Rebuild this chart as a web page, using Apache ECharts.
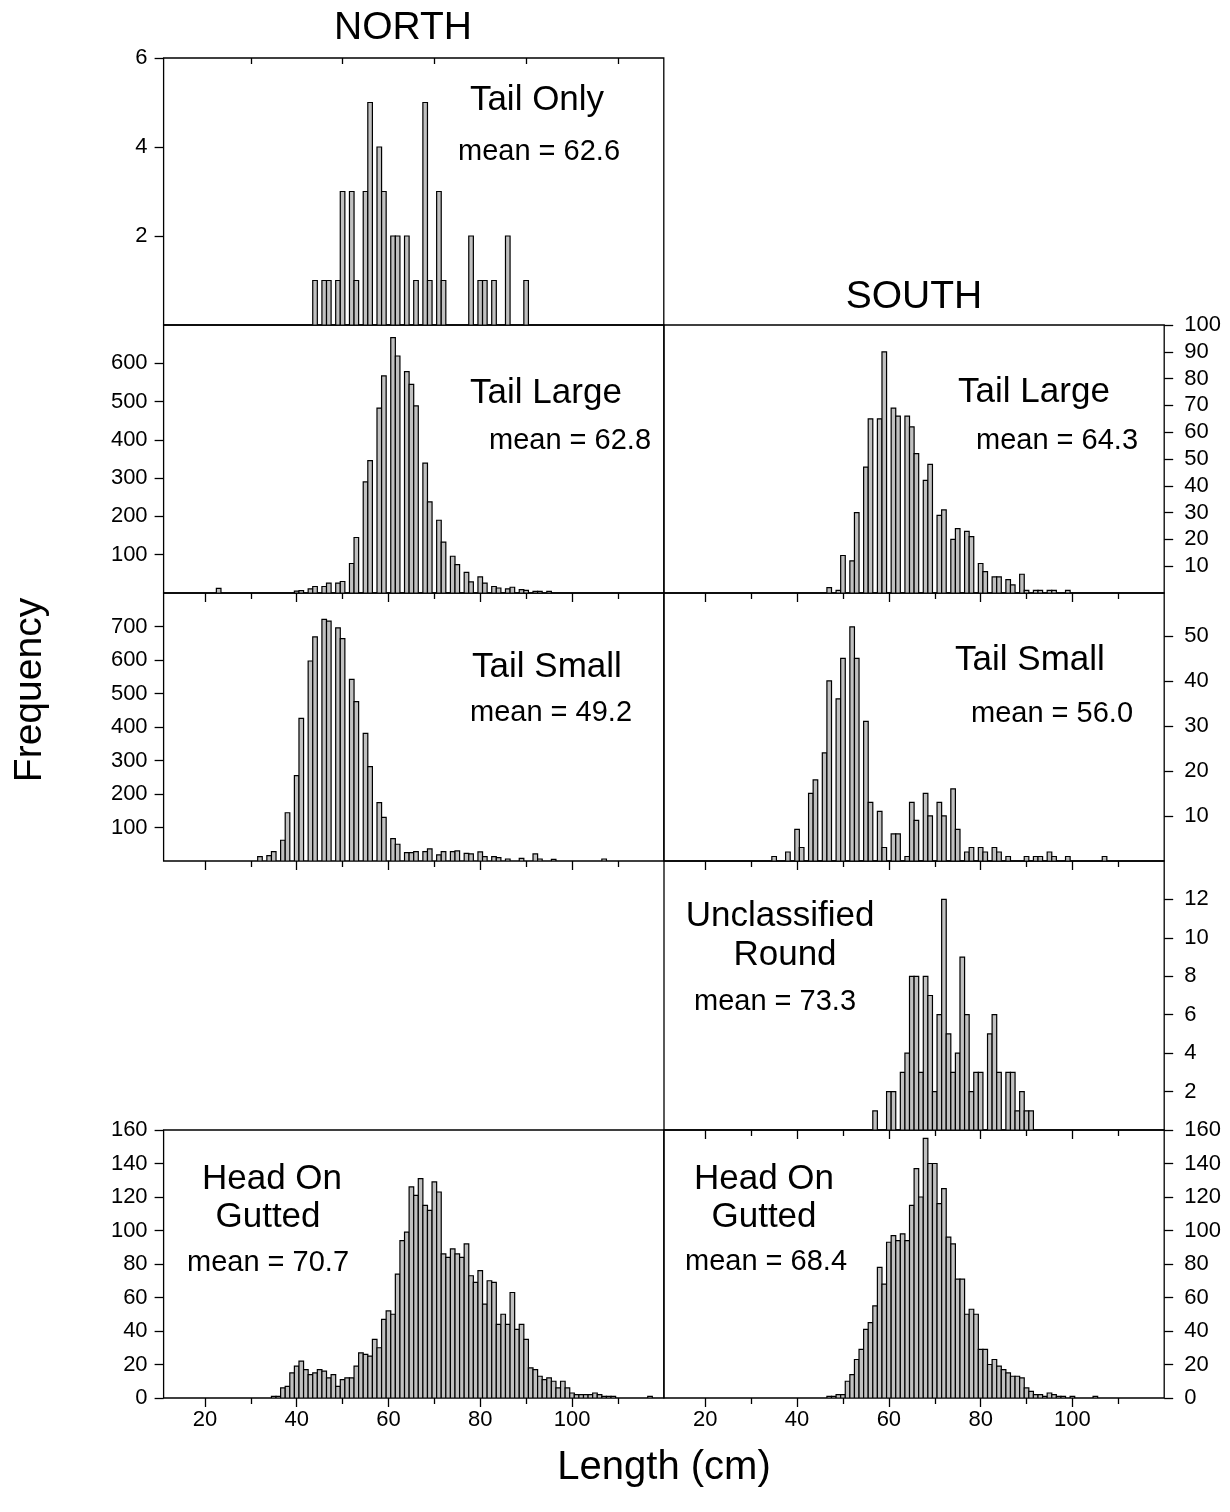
<!DOCTYPE html>
<html><head><meta charset="utf-8">
<script src="https://cdn.jsdelivr.net/npm/echarts@6/dist/echarts.min.js"></script>
<style>html,body{margin:0;padding:0;background:#fff}#c{width:1230px;height:1512px}</style>
</head><body><div id="c"></div>
<script>
// ---------------- DATA (length in cm, frequency) ----------------
const tailOnlyNorthLen = [44,46,47,49,50,52,53,55,56,58,59,61,62,64,66,68,69,71,72,78,80,81,83,86,90];
const tailOnlyNorthN   = [1,1,1,1,3,3,1,3,5,4,3,2,2,2,1,5,1,3,1,2,1,1,1,2,1];

const tailLargeNorthLen = [23,40,41,43,44,46,47,49,50,52,53,55,56,58,59,61,62,64,65,66,68,69,71,72,74,75,77,78,80,81,83,84,86,87,89,90,92,93,95];
const tailLargeNorthN   = [12,5,6,11,17,17,26,26,30,77,145,290,346,483,567,667,619,578,545,489,339,238,190,133,96,74,54,29,42,26,17,13,11,15,9,7,4,4,4];

const tailLargeSouthLen = [47,49,50,52,53,55,56,58,59,61,62,64,65,66,68,69,71,72,74,75,77,78,80,81,83,84,86,87,89,90,92,93,95,96,99];
const tailLargeSouthN   = [2,1,14,12,30,47,65,65,90,69,66,66,62,52,42,48,29,31,20,24,23,21,11,8,6,6,5,3,7,1,1,1,1,1,1];

const tailSmallNorthLen = [32,34,35,37,38,40,41,43,44,46,47,49,50,52,53,55,56,58,59,61,62,64,65,66,68,69,71,72,74,75,77,78,80,81,83,84,86,89,92,93,96,107];
const tailSmallNorthN   = [13,16,28,62,144,255,426,597,669,721,716,696,664,542,476,381,282,174,130,67,50,25,25,28,28,36,18,28,28,30,23,21,27,13,13,10,6,8,21,6,5,6];

const tailSmallSouthLen = [35,38,40,41,43,44,46,47,49,50,52,53,55,56,58,59,61,62,64,65,66,68,69,71,72,74,75,77,78,80,81,83,84,86,90,92,93,95,96,99,107];
const tailSmallSouthN   = [1,2,7,3,15,18,24,40,36,45,52,45,31,13,11,3,6,6,1,13,9,15,10,13,10,16,7,2,3,3,2,3,2,1,1,1,1,2,1,1,1];

const roundSouthLen = [57,60,61,63,64,65,66,67,68,69,70,71,72,73,74,75,76,77,78,79,80,82,83,84,86,87,88,89,90,91];
const roundSouthN   = [1,2,2,3,4,8,8,3,8,7,2,6,12,5,3,4,9,6,2,3,3,5,6,3,3,3,1,2,1,1];

const hogNorthLen = [35,36,37,38,39,40,41,42,43,44,45,46,47,48,49,50,51,52,53,54,55,56,57,58,59,60,61,62,63,64,65,66,67,68,69,70,71,72,73,74,75,76,77,78,79,80,81,82,83,84,85,86,87,88,89,90,91,92,93,94,95,96,97,98,99,100,101,102,103,104,105,106,107,108,109,117];
const hogNorthN   = [1,1,6,7,15,19,22,17,14,15,17,16,12,14,7,11,12,12,19,27,26,25,35,30,47,52,50,74,94,99,126,121,131,115,112,129,123,86,84,89,86,84,92,73,69,76,56,70,69,44,50,44,63,41,44,35,18,17,13,11,12,10,6,10,6,3,2,2,2,2,3,2,1,1,1,1];

const hogSouthLen = [47,48,49,50,51,52,53,54,55,56,57,58,59,60,61,62,63,64,65,66,67,68,69,70,71,72,73,74,75,76,77,78,79,80,81,82,83,84,85,86,87,88,89,90,91,92,93,94,95,96,97,98,100,105];
const hogSouthN   = [1,1,2,2,10,14,23,29,41,45,55,78,68,93,97,94,98,94,115,137,120,155,140,140,116,125,96,92,71,71,50,53,50,29,29,20,23,19,17,15,13,13,12,6,4,2,2,1,3,2,1,1,1,1];

// bin width (cm) and tick values
const binWidth = 1;
const xMajorTicks = [20,40,60,80,100];
const xMinorTicks = [30,50,70,90,110];
const yTicksTailOnly = [2,4,6];
const yTicksLargeN = [100,200,300,400,500,600];
const yTicksLargeS = [10,20,30,40,50,60,70,80,90,100];
const yTicksSmallN = [100,200,300,400,500,600,700];
const yTicksSmallS = [10,20,30,40,50];
const yTicksRound = [2,4,6,8,10,12];
const yTicksHog = [0,20,40,60,80,100,120,140,160];

// ---------------- LAYOUT ----------------
const FONT = '"Liberation Sans", Arial, sans-serif';
const XN = 163.6, XS = 664, PW = 500.2;
const XMIN = 11, XMAX = 120;
const ROWS = [[58,325],[325,593],[593,861],[861,1130],[1130,1398]];

const panels = [
  {len: tailOnlyNorthLen, n: tailOnlyNorthN, left: XN, row: 0, yMax: 6, ticks: yTicksTailOnly, side: 'left', bottom: false, top: true},
  {len: tailLargeNorthLen, n: tailLargeNorthN, left: XN, row: 1, yMax: 700, ticks: yTicksLargeN, side: 'left', bottom: false},
  {len: tailLargeSouthLen, n: tailLargeSouthN, left: XS, row: 1, yMax: 100, ticks: yTicksLargeS, side: 'right', bottom: false},
  {len: tailSmallNorthLen, n: tailSmallNorthN, left: XN, row: 2, yMax: 800, ticks: yTicksSmallN, side: 'left', bottom: false},
  {len: tailSmallSouthLen, n: tailSmallSouthN, left: XS, row: 2, yMax: 59.5, ticks: yTicksSmallS, side: 'right', bottom: false},
  {len: roundSouthLen, n: roundSouthN, left: XS, row: 3, yMax: 14, ticks: yTicksRound, side: 'right', bottom: false},
  {len: hogNorthLen, n: hogNorthN, left: XN, row: 4, yMax: 160, ticks: yTicksHog, side: 'left', bottom: true},
  {len: hogSouthLen, n: hogSouthN, left: XS, row: 4, yMax: 160, ticks: yTicksHog, side: 'right', bottom: true}
];

function renderBin(params, api) {
  const x = api.value(0), y = api.value(1);
  const p0 = api.coord([x - binWidth / 2, y]);
  const p1 = api.coord([x + binWidth / 2, 0]);
  return {type: 'rect',
    shape: {x: p0[0], y: p0[1], width: p1[0] - p0[0], height: p1[1] - p0[1]},
    style: {fill: '#c0c0c0', stroke: '#000', lineWidth: 1.2}};
}

const TICKSTYLE = {color: '#000', width: 1.3};
const grid = [], xAxis = [], yAxis = [], series = [];
panels.forEach((p, i) => {
  const [t, b] = ROWS[p.row];
  grid.push({left: p.left, top: t, width: PW, height: b - t, show: true, borderColor: '#000', borderWidth: 1.3});
  xAxis.push({
    type: 'value', gridIndex: i, min: XMIN, max: XMAX, position: 'bottom',
    axisLine: {show: false}, splitLine: {show: false},
    axisTick: {show: !p.top, inside: false, length: 9, customValues: xMajorTicks, lineStyle: TICKSTYLE},
    axisLabel: {show: p.bottom, customValues: xMajorTicks, color: '#000', fontSize: 22, fontFamily: FONT, margin: 11}
  });
  xAxis.push({
    type: 'value', gridIndex: i, min: XMIN, max: XMAX, position: p.top ? 'top' : 'bottom',
    axisLine: {show: false}, splitLine: {show: false}, axisLabel: {show: false},
    axisTick: {show: true, inside: !!p.top, length: 6, customValues: xMinorTicks, lineStyle: TICKSTYLE}
  });
  yAxis.push({
    type: 'value', gridIndex: i, min: 0, max: p.yMax, position: p.side,
    axisLine: {show: false}, splitLine: {show: false},
    axisTick: {show: true, inside: false, length: 9, customValues: p.ticks, lineStyle: TICKSTYLE},
    axisLabel: {customValues: p.ticks, color: '#000', fontSize: 22, fontFamily: FONT, margin: p.side === 'left' ? 16 : 20, align: p.side === 'left' ? 'right' : 'left'}
  });
  series.push({
    type: 'custom', xAxisIndex: 2 * i, yAxisIndex: i, renderItem: renderBin,
    encode: {x: 0, y: 1},
    data: p.len.map((x, j) => [x, p.n[j]]),
    silent: true, animation: false, clip: true
  });
});

function txt(text, x, y, size, rot) {
  return {type: 'text', x: x, y: y, rotation: rot || 0,
    style: {text: text, fontSize: size, fontFamily: FONT, fill: '#000', textAlign: 'center', textVerticalAlign: 'middle'}};
}
const graphic = [
  txt('NORTH', 403, 28, 39), txt('SOUTH', 914, 297, 39),
  txt('Tail Only', 537, 100, 35), txt('mean = 62.6', 539, 152, 29),
  txt('Tail Large', 546, 393, 35), txt('mean = 62.8', 570, 441, 29),
  txt('Tail Large', 1034, 392, 35), txt('mean = 64.3', 1057, 441, 29),
  txt('Tail Small', 547, 667, 35), txt('mean = 49.2', 551, 713, 29),
  txt('Tail Small', 1030, 660, 35), txt('mean = 56.0', 1052, 714, 29),
  txt('Unclassified', 780, 916, 35), txt('Round', 785, 955, 35), txt('mean = 73.3', 775, 1002, 29),
  txt('Head On', 272, 1179, 35), txt('Gutted', 268, 1217, 35), txt('mean = 70.7', 268, 1263, 29),
  txt('Head On', 764, 1179, 35), txt('Gutted', 764, 1217, 35), txt('mean = 68.4', 766, 1262, 29),
  txt('Frequency', 30, 690, 39, Math.PI / 2),
  txt('Length (cm)', 664, 1468, 40)
];

const chart = echarts.init(document.getElementById('c'), null, {renderer: 'canvas'});
chart.setOption({animation: false, backgroundColor: '#fff', grid, xAxis, yAxis, series, graphic});
</script></body></html>
